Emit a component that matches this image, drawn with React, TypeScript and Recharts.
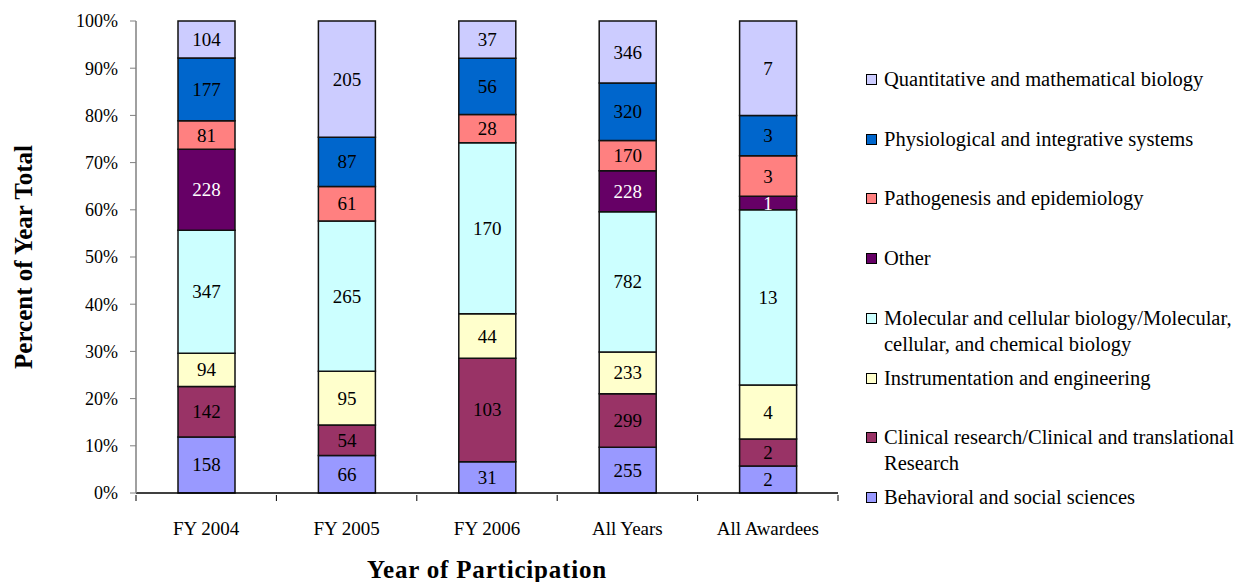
import React from 'react';
import { BarChart, Bar, XAxis, YAxis, LabelList, Legend, Label } from 'recharts';

const categories = ['FY 2004', 'FY 2005', 'FY 2006', 'All Years', 'All Awardees'];

const behavioral = [158, 66, 31, 255, 2];
const clinical = [142, 54, 103, 299, 2];
const instrumentation = [94, 95, 44, 233, 4];
const molecular = [347, 265, 170, 782, 13];
const other = [228, 0, 0, 228, 1];
const pathogenesis = [81, 61, 28, 170, 3];
const physiological = [177, 87, 56, 320, 3];
const quantitative = [104, 205, 37, 346, 7];

const seriesNames = [
  'Behavioral and social sciences',
  'Clinical research/Clinical and translational Research',
  'Instrumentation and engineering',
  'Molecular and cellular biology/Molecular, cellular, and chemical biology',
  'Other',
  'Pathogenesis and epidemiology',
  'Physiological and integrative systems',
  'Quantitative and mathematical biology',
];
const legendLines = [
  ['Behavioral and social sciences'],
  ['Clinical research/Clinical and translational', 'Research'],
  ['Instrumentation and engineering'],
  ['Molecular and cellular biology/Molecular,', 'cellular, and chemical biology'],
  ['Other'],
  ['Pathogenesis and epidemiology'],
  ['Physiological and integrative systems'],
  ['Quantitative and mathematical biology'],
];
const seriesKeys = ['beh', 'cli', 'ins', 'mol', 'oth', 'pat', 'phy', 'qua'];
const seriesValues = [behavioral, clinical, instrumentation, molecular, other, pathogenesis, physiological, quantitative];
const seriesColors = ['#9999FF', '#993366', '#FFFFCC', '#CCFFFF', '#660066', '#FF8080', '#0066CC', '#CCCCFF'];
const labelColors = ['#000', '#000', '#000', '#000', '#fff', '#000', '#000', '#000'];

const yTicks = [0, 0.1, 0.2, 0.3, 0.4, 0.5, 0.6, 0.7, 0.8, 0.9, 1];

const data = categories.map((c, i) => {
  const row: Record<string, any> = { name: c };
  seriesKeys.forEach((k, s) => {
    row[k] = seriesValues[s][i];
  });
  return row;
});

const FONT = '"Liberation Serif", "Times New Roman", serif';
const W = 1245;
const H = 582;
const M = { top: 21, right: 407, bottom: 49, left: 0 };
const Y_W = 136;
const PLOT_W = W - M.right - Y_W;
const HALF_BAND = PLOT_W / categories.length / 2;

const XTick = (props: any) => {
  const { x, y, payload, index } = props;
  return (
    <g>
      <line x1={x - HALF_BAND} x2={x - HALF_BAND} y1={y} y2={y + 6} stroke="#000" strokeWidth={1} />
      {index === categories.length - 1 && (
        <line x1={x + HALF_BAND} x2={x + HALF_BAND} y1={y} y2={y + 6} stroke="#000" strokeWidth={1} />
      )}
      <text x={x} y={y + 40} textAnchor="middle" fontFamily={FONT} fontSize={19} fill="#000">
        {payload.value}
      </text>
    </g>
  );
};

const makeLabel = (color: string) => (props: any) => {
  const { x, y, width, height, value } = props;
  if (!value) return null;
  return (
    <text
      x={x + width / 2}
      y={y + height / 2}
      textAnchor="middle"
      dominantBaseline="central"
      fontFamily={FONT}
      fontSize={19}
      fill={color}
    >
      {value}
    </text>
  );
};

const LegendContent = () => {
  const order = [7, 6, 5, 4, 3, 2, 1, 0];
  return (
    <div style={{ position: 'relative', width: 380, height: 480, fontFamily: FONT, fontSize: 20.5, color: '#000', textAlign: 'left' }}>
      {order.map((s, i) => (
        <div key={s} style={{ position: 'absolute', left: 0, top: i * 59.7, lineHeight: '26px' }}>
          <span
            style={{
              position: 'absolute',
              left: 0,
              top: 8,
              width: 9,
              height: 9,
              background: seriesColors[s],
              border: '1px solid #000',
            }}
          />
          <div style={{ marginLeft: 18, whiteSpace: 'nowrap' }}>
            {legendLines[s].map((l, j) => (
              <div key={j}>{l}</div>
            ))}
          </div>
        </div>
      ))}
    </div>
  );
};

export default function App() {
  return (
    <div style={{ width: W, height: H, position: 'relative', background: '#fff' }}>
      <style>{`body{margin:0;background:#fff}`}</style>
      <BarChart width={W} height={H} data={data} margin={M} stackOffset="expand" barCategoryGap={0}>
        <XAxis
          dataKey="name"
          tick={<XTick />}
          tickLine={false}
          tickSize={0}
          axisLine={{ stroke: '#000', strokeWidth: 1.5 }}
          interval={0}
          height={40}
        >
          <Label
            content={(p: any) => {
              const vb = p.viewBox;
              return (
                <text
                  x={vb.x + vb.width / 2}
                  y={569}
                  textAnchor="middle"
                  dominantBaseline="central"
                  fontFamily={FONT}
                  fontSize={25}
                  fontWeight="bold"
                  letterSpacing={0.8}
                  fill="#000"
                >
                  Year of Participation
                </text>
              );
            }}
          />
        </XAxis>
        <YAxis
          width={Y_W}
          domain={[0, 1]}
          ticks={yTicks}
          tickFormatter={(v: number) => `${Math.round(v * 100)}%`}
          tick={{ fontFamily: FONT, fontSize: 18, fill: '#000' }}
          tickSize={6}
          tickMargin={12}
          tickLine={{ stroke: '#808080' }}
          axisLine={{ stroke: '#808080', strokeWidth: 1.5 }}
          interval={0}
        >
          <Label
            content={(p: any) => {
              const vb = p.viewBox;
              const cy = vb.y + vb.height / 2;
              return (
                <text
                  x={23}
                  y={cy}
                  transform={`rotate(-90, 23, ${cy})`}
                  textAnchor="middle"
                  dominantBaseline="central"
                  fontFamily={FONT}
                  fontSize={25}
                  fontWeight="bold"
                  fill="#000"
                >
                  Percent of Year Total
                </text>
              );
            }}
          />
        </YAxis>
        <Legend
          content={<LegendContent />}
          layout="vertical"
          verticalAlign="middle"
          align="center"
          wrapperStyle={{ position: 'absolute', left: 866, top: 66, width: 380, height: 480 }}
        />
        {seriesKeys.map((k, s) => (
          <Bar
            key={k}
            dataKey={k}
            name={seriesNames[s]}
            stackId="a"
            fill={seriesColors[s]}
            stroke="#111"
            strokeWidth={1.5}
            barSize={57}
            isAnimationActive={false}
          >
            <LabelList dataKey={k} content={makeLabel(labelColors[s])} />
          </Bar>
        ))}
      </BarChart>
    </div>
  );
}
